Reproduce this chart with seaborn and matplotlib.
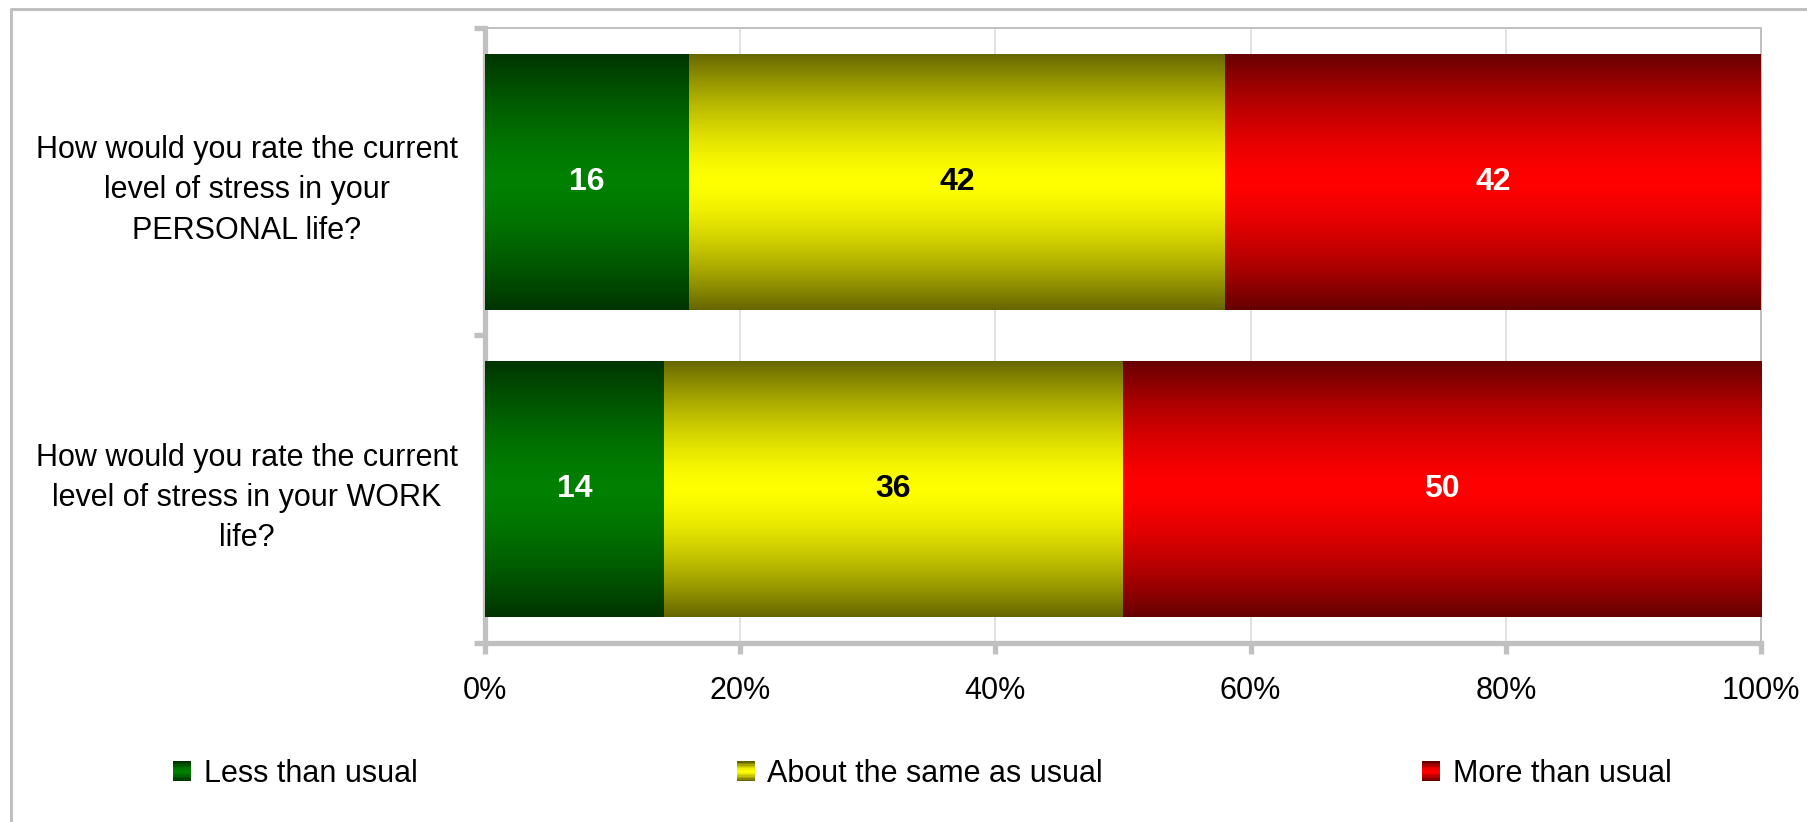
import numpy as np
import matplotlib
matplotlib.use("Agg")
import matplotlib.pyplot as plt
import seaborn as sns
from matplotlib.lines import Line2D
from matplotlib.patches import Patch, Rectangle
from matplotlib.legend_handler import HandlerBase

# données
questions = [
    "How would you rate the current\nlevel of stress in your\nPERSONAL life?",
    "How would you rate the current\nlevel of stress in your WORK\nlife?",
]
series = ["Less than usual", "About the same as usual", "More than usual"]
less_vals = [16, 14]
same_vals = [42, 36]
more_vals = [42, 50]
x_ticks = [0, 20, 40, 60, 80, 100]
x_tick_labels = ["0%", "20%", "40%", "60%", "80%", "100%"]

centers = [(0, 128 / 255, 0), (1, 1, 0), (1, 0, 0)]
label_colors = ["white", "black", "white"]
GRAY = "#c0c0c0"


def gradient(c, n=256):
    # sombre en haut et en bas, clair au milieu
    t = np.linspace(0, 1, n)
    f = 1 - np.abs(2 * t - 1) ** 1.5
    c = np.array(c)
    edge = 0.4 * c
    return edge[None, :] + f[:, None] * (c - edge)[None, :]


class GradientHandler(HandlerBase):
    def __init__(self, color):
        super().__init__()
        self.color = color

    def create_artists(self, legend, orig_handle, xdescent, ydescent,
                       width, height, fontsize, trans):
        n = 14
        cols = gradient(self.color, n)
        arts = []
        for i in range(n):
            arts.append(Rectangle((-xdescent, -ydescent + height * i / n),
                                  width, height / n + 0.3, facecolor=cols[i],
                                  edgecolor="none", transform=trans))
        return arts


sns.set_theme(style="white")
plt.rcParams["font.family"] = ["Liberation Sans", "DejaVu Sans"]
plt.rcParams["text.color"] = "black"
plt.rcParams["xtick.labelcolor"] = "black"
plt.rcParams["ytick.labelcolor"] = "black"

fig = plt.figure(figsize=(18.08, 8.22), dpi=100)
ax = fig.add_axes([0.26825, 0.21776, 0.7058, 0.7482])

values = [less_vals, same_vals, more_vals]
starts = np.zeros(len(questions))
for i, vals in enumerate(values):
    sns.barplot(x=vals, y=questions, orient="h", color=centers[i],
                saturation=1, width=0.8325, left=starts.copy(),
                linewidth=0, ax=ax)
    cont = ax.containers[-1]
    for p in cont.patches:
        x0, y0 = p.get_x(), p.get_y()
        w, h = p.get_width(), p.get_height()
        img = gradient(centers[i])[:, None, :]
        im = ax.imshow(img, extent=[x0, x0 + w, y0 + h, y0], aspect="auto",
                       zorder=3, interpolation="bilinear")
        im.set_clip_path(p)
    ax.bar_label(cont, labels=[str(v) for v in vals], label_type="center",
                 color=label_colors[i], fontsize=23, fontweight="bold",
                 zorder=5)
    starts = starts + np.array(vals)

ax.set_xlim(0, 100)
ax.set_ylim(1.5, -0.5)
ax.set_xlabel("")
ax.set_ylabel("")

ax.set_xticks(x_ticks)
ax.set_xticklabels(x_tick_labels, fontsize=22)
ax.tick_params(axis="x", direction="out", length=8, width=3.8, color=GRAY,
               pad=16, bottom=True)

ax.set_yticks([-0.5, 0.5, 1.5])
ax.set_yticklabels(["", "", ""])
ax.set_yticks([0, 1], minor=True)
ax.set_yticklabels(questions, minor=True, fontsize=22, multialignment="center",
                   linespacing=1.45)
ax.tick_params(axis="y", which="major", direction="out", length=8, width=3.8,
               color=GRAY, left=True)
ax.tick_params(axis="y", which="minor", length=0, pad=19.5)

ax.xaxis.grid(True, color="#d9d9d9", linewidth=1.1)
ax.set_axisbelow(True)

for side in ["left", "bottom"]:
    ax.spines[side].set_color(GRAY)
    ax.spines[side].set_linewidth(3.8)
for side in ["top", "right"]:
    ax.spines[side].set_color(GRAY)
    ax.spines[side].set_linewidth(1.4)

# légende
handles = [Patch(label=s) for s in series]
hmap = {h: GradientHandler(c) for h, c in zip(handles, centers)}
fig.legend(handles=handles, labels=series, handler_map=hmap, ncol=3,
           loc="center left", bbox_to_anchor=(173 / 1808, 1 - 774 / 822),
           frameon=False, fontsize=22, handlelength=0.6, handleheight=0.6,
           handletextpad=0.4, columnspacing=10.45, borderpad=0,
           borderaxespad=0)

# cadre extérieur
fig.add_artist(Line2D([0.0061, 0.0061], [0, 0.989], color=GRAY, lw=2.2,
                      transform=fig.transFigure))
fig.add_artist(Line2D([0.0061, 1], [0.989, 0.989], color=GRAY, lw=2.2,
                      transform=fig.transFigure))

fig.savefig("out.png", dpi=100)
